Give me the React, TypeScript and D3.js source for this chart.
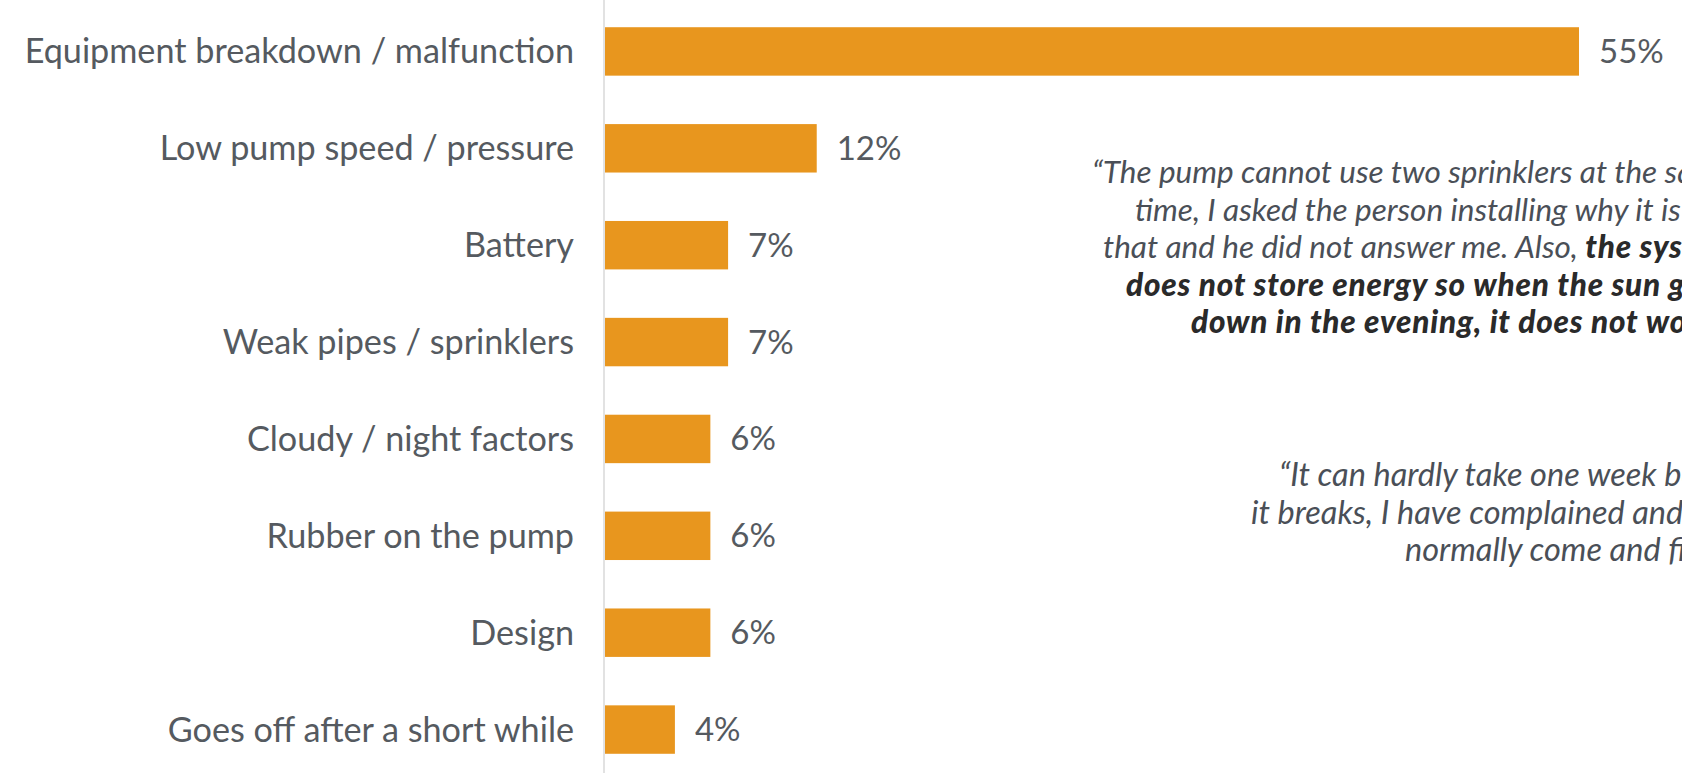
import React from "react";
import * as d3 from "d3";

const categories = [
  "Equipment breakdown / malfunction",
  "Low pump speed / pressure",
  "Battery",
  "Weak pipes / sprinklers",
  "Cloudy / night factors",
  "Rubber on the pump",
  "Design",
  "Goes off after a short while",
];
const values = [55, 12, 7, 7, 6, 6, 6, 4];

type Seg = { t: string; b?: boolean };
const quote1: Seg[][] = [
  [{ t: "\u201CThe pump cannot use two sprinklers at the same" }],
  [{ t: "time, I asked the person installing why it is like" }],
  [{ t: "that and he did not answer me. Also, " }, { t: "the system", b: true }],
  [{ t: "does not store energy so when the sun goes", b: true }],
  [{ t: "down in the evening, it does not work.\u201D", b: true }],
];
const quote1X = [1092, 1135, 1103, 1126, 1191];
const quote2: Seg[][] = [
  [{ t: "\u201CIt can hardly take one week before" }],
  [{ t: "it breaks, I have complained and they" }],
  [{ t: "normally come and fix it.\u201D" }],
];
const quote2X = [1279, 1251, 1405];

const W = 1682;
const H = 773;

export default function App() {
  const x0 = 604;
  const x = d3.scaleLinear().domain([0, 55]).range([x0, 1579]);
  const y = d3
    .scaleBand<string>()
    .domain(categories)
    .range([3, 778])
    .paddingInner(0.5)
    .paddingOuter(0.25);
  const font = "Lato, 'Open Sans', sans-serif";
  return (
    <div style={{ position: "fixed", left: 0, top: 0 }}>
      <svg width={W} height={H} style={{ display: "block", background: "#fff" }}>
        <line x1={x0} x2={x0} y1={0} y2={H} stroke="#d9d9d9" strokeWidth={1.5} />
        {categories.map((c, i) => {
          const yc = (y(c) as number) + y.bandwidth() / 2;
          return (
            <g key={c}>
              <rect
                x={x(0) + 1}
                y={y(c) as number}
                width={x(values[i]) - x(0) - 1}
                height={y.bandwidth()}
                fill="#E8961E"
              />
              <text
                x={574}
                y={yc}
                dy="0.35em"
                textAnchor="end"
                fontFamily={font}
                fontSize={34.2}
                fill="#555a60"
              >
                {c}
              </text>
              <text
                x={x(values[i]) + 20}
                y={yc}
                dy="0.35em"
                fontFamily={font}
                fontSize={33}
                fill="#555a60"
              >
                {values[i] + "%"}
              </text>
            </g>
          );
        })}
        {quote1.map((line, i) => (
          <text
            key={"q1" + i}
            x={quote1X[i]}
            y={172 + i * 37.5}
            dy="0.35em"
            fontFamily={font}
            fontStyle="italic"
            fontSize={31.5}
            fill="#4a4f57"
          >
            {line.map((s, j) => (
              <tspan
                key={j}
                fontWeight={s.b ? 900 : 400}
                letterSpacing={s.b ? 0.8 : 0}
                fill={s.b ? "#2a2a2a" : "#4a4f57"}
              >
                {s.t}
              </tspan>
            ))}
          </text>
        ))}
        {quote2.map((line, i) => (
          <text
            key={"q2" + i}
            x={quote2X[i]}
            y={475 + i * 37.5}
            dy="0.35em"
            fontFamily={font}
            fontStyle="italic"
            fontSize={32.5}
            fill="#4a4f57"
          >
            {line.map((s, j) => (
              <tspan key={j}>{s.t}</tspan>
            ))}
          </text>
        ))}
      </svg>
    </div>
  );
}
